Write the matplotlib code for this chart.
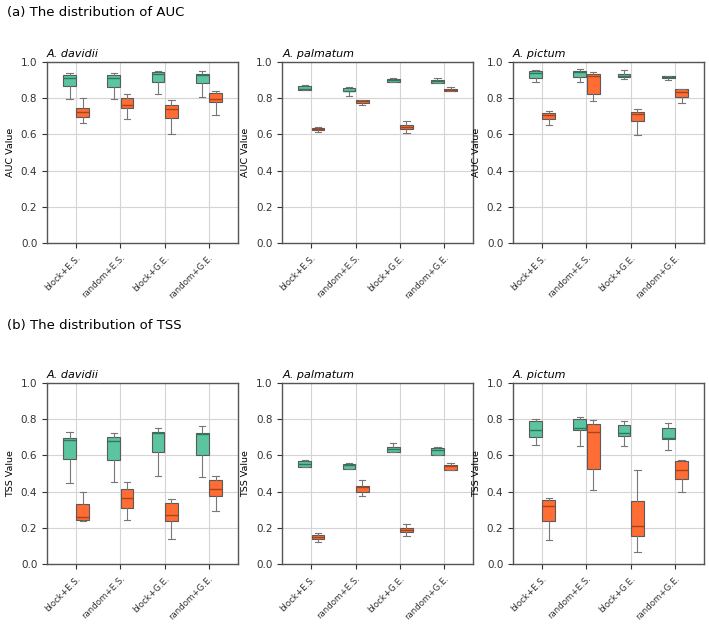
import matplotlib
matplotlib.use("Agg")
import matplotlib.pyplot as plt

methods = ["block+E.S.", "random+E.S.", "block+G.E.", "random+G.E."]
species = ["A. davidii", "A. palmatum", "A. pictum"]

# box stats per method: [whisker low, q1, median, q3, whisker high]
auc_davidii_green = [[0.793, 0.866, 0.908, 0.927, 0.940], [0.794, 0.862, 0.912, 0.925, 0.936],
                     [0.822, 0.890, 0.930, 0.941, 0.950], [0.807, 0.881, 0.928, 0.930, 0.949]]
auc_davidii_orange = [[0.661, 0.694, 0.721, 0.743, 0.798], [0.683, 0.747, 0.760, 0.798, 0.820],
                      [0.600, 0.688, 0.740, 0.760, 0.789], [0.708, 0.780, 0.793, 0.829, 0.840]]
auc_palmatum_green = [[0.843, 0.844, 0.848, 0.866, 0.869], [0.810, 0.836, 0.841, 0.857, 0.861],
                      [0.890, 0.890, 0.899, 0.904, 0.910], [0.880, 0.880, 0.895, 0.900, 0.910]]
auc_palmatum_orange = [[0.612, 0.623, 0.630, 0.637, 0.641], [0.761, 0.770, 0.781, 0.788, 0.790],
                       [0.608, 0.628, 0.641, 0.651, 0.671], [0.838, 0.840, 0.846, 0.852, 0.860]]
auc_pictum_green = [[0.888, 0.910, 0.938, 0.947, 0.952], [0.886, 0.915, 0.941, 0.950, 0.958],
                    [0.902, 0.914, 0.923, 0.932, 0.952], [0.900, 0.908, 0.914, 0.919, 0.920]]
auc_pictum_orange = [[0.653, 0.682, 0.704, 0.719, 0.728], [0.785, 0.824, 0.923, 0.932, 0.941],
                     [0.599, 0.671, 0.711, 0.722, 0.741], [0.770, 0.807, 0.835, 0.849, 0.850]]

tss_davidii_green = [[0.445, 0.577, 0.683, 0.694, 0.725], [0.450, 0.571, 0.678, 0.698, 0.722],
                     [0.487, 0.617, 0.720, 0.729, 0.747], [0.478, 0.599, 0.714, 0.720, 0.760]]
tss_davidii_orange = [[0.240, 0.244, 0.262, 0.330, 0.396], [0.242, 0.310, 0.363, 0.412, 0.450],
                      [0.137, 0.240, 0.271, 0.339, 0.359], [0.293, 0.377, 0.412, 0.461, 0.487]]
tss_palmatum_green = [[0.535, 0.535, 0.551, 0.568, 0.571], [0.522, 0.524, 0.546, 0.551, 0.555],
                      [0.617, 0.617, 0.636, 0.647, 0.668], [0.599, 0.599, 0.628, 0.637, 0.647]]
tss_palmatum_orange = [[0.121, 0.141, 0.150, 0.159, 0.172], [0.375, 0.399, 0.423, 0.429, 0.462],
                       [0.158, 0.179, 0.190, 0.200, 0.220], [0.520, 0.520, 0.542, 0.548, 0.559]]
tss_pictum_green = [[0.656, 0.700, 0.738, 0.789, 0.800], [0.648, 0.736, 0.747, 0.799, 0.810],
                    [0.648, 0.705, 0.720, 0.767, 0.788], [0.628, 0.687, 0.696, 0.747, 0.780]]
tss_pictum_orange = [[0.135, 0.240, 0.320, 0.356, 0.365], [0.407, 0.522, 0.725, 0.773, 0.795],
                     [0.070, 0.158, 0.211, 0.348, 0.520], [0.400, 0.470, 0.520, 0.570, 0.575]]

rows = [
    ("(a) The distribution of AUC", "AUC Value",
     [(auc_davidii_green, auc_davidii_orange), (auc_palmatum_green, auc_palmatum_orange),
      (auc_pictum_green, auc_pictum_orange)]),
    ("(b) The distribution of TSS", "TSS Value",
     [(tss_davidii_green, tss_davidii_orange), (tss_palmatum_green, tss_palmatum_orange),
      (tss_pictum_green, tss_pictum_orange)]),
]

GREEN, GREEN_MED = "#5cc49f", "#2c7a5e"
ORANGE, ORANGE_MED = "#ff6d35", "#a8431a"
EDGE = "#5a5a5a"
WHISKER = "#777777"


def to_stats(values):
    return [dict(whislo=v[0], q1=v[1], med=v[2], q3=v[3], whishi=v[4], fliers=[]) for v in values]


def draw_boxes(ax, values, offset, face, med_color):
    positions = [i + offset for i in range(len(values))]
    ax.bxp(to_stats(values), positions=positions, widths=0.29, patch_artist=True,
           showfliers=False, manage_ticks=False,
           boxprops=dict(facecolor=face, edgecolor=EDGE, linewidth=0.8),
           medianprops=dict(color=med_color, linewidth=1.0),
           whiskerprops=dict(color=WHISKER, linewidth=0.8),
           capprops=dict(color=WHISKER, linewidth=0.8))


fig = plt.figure(figsize=(7.09, 6.39), dpi=100)
lefts = [0.0663, 0.398, 0.7236]
bottoms = [0.619, 0.1169]
width, height = 0.2695, 0.2845
heading_y = [0.981, 0.491]

for r, (heading, ylabel, panels) in enumerate(rows):
    fig.text(0.01, heading_y[r], heading, fontsize=9.5, va="center", ha="left")
    for c, (green, orange) in enumerate(panels):
        ax = fig.add_axes([lefts[c], bottoms[r], width, height])
        ax.set_axisbelow(True)
        ax.grid(True, color="#d4d4d4", linewidth=0.8)
        draw_boxes(ax, green, -0.15, GREEN, GREEN_MED)
        draw_boxes(ax, orange, 0.15, ORANGE, ORANGE_MED)
        ax.set_xlim(-0.66, 3.66)
        ax.set_ylim(0, 1.0)
        ax.set_yticks([0.0, 0.2, 0.4, 0.6, 0.8, 1.0])
        ax.set_xticks(range(len(methods)))
        ax.set_xticklabels(methods, rotation=45, ha="right", rotation_mode="anchor", fontsize=6.2)
        ax.tick_params(axis="y", labelsize=7.5, colors="#333333")
        ax.tick_params(axis="x", colors="#333333")
        ax.set_ylabel(ylabel, fontsize=6.8)
        ax.set_title(species[c], fontsize=8, style="italic", loc="left", pad=3)
        for spine in ax.spines.values():
            spine.set_color("#555555")
            spine.set_linewidth(1.0)

fig.savefig("out.png", dpi=100)
